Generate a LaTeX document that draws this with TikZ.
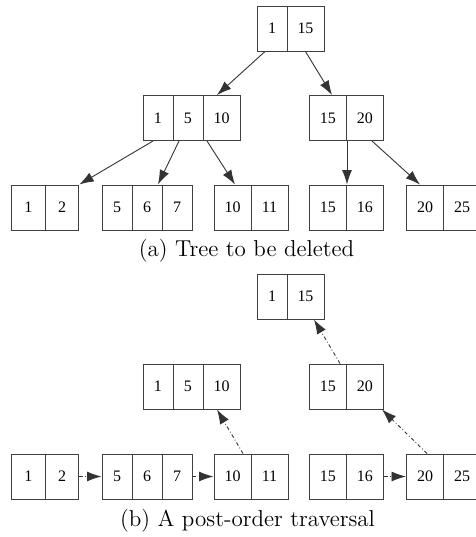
\documentclass[tikz,border=0pt]{standalone}
\usepackage{fontspec}
\newfontfamily\keyfont{Liberation Serif}
\usetikzlibrary{arrows.meta}

\begin{document}
\begin{tikzpicture}[x=0.5pt,y=-0.5pt,
  cell/.style={draw=black!75,line width=0.5pt,minimum height=22.5pt,inner sep=0pt,font=\keyfont\fontsize{8}{9}\selectfont},
  narrow/.style={cell,minimum width=15pt},
  wide/.style={cell,minimum width=18.5pt},
  half/.style={cell,minimum width=16.75pt},
  child/.style={draw=black!80,line width=0.45pt,-{Latex[length=7.25pt,width=5pt]}},
  visit/.style={child,dash pattern=on 1.8pt off 1.2pt on 0.4pt off 1.2pt},
  caption/.style={font=\fontsize{11.5}{14}\selectfont}]
\useasboundingbox (0,0) rectangle (476,537);
% (a) tree to be deleted
\node[narrow] (r1) at (272,28.5) {1};
\node[wide] (r15) at (305.5,28.5) {15};
\node[narrow] (a1) at (158,118) {1};
\node[narrow] (a5) at (188,118) {5};
\node[wide] (a10) at (221.5,118) {10};
\node[wide] (b15) at (328,118) {15};
\node[wide] (b20) at (365,118) {20};
\node[half] (l1) at (28.5,207.5) {1};
\node[half] (l2) at (62,207.5) {2};
\node[narrow] (l5) at (117,207.5) {5};
\node[narrow] (l6) at (147,207.5) {6};
\node[narrow] (l7) at (177,207.5) {7};
\node[wide] (l10) at (232.5,207.5) {10};
\node[wide] (l11) at (269.5,207.5) {11};
\node[wide] (l15) at (328,207.5) {15};
\node[wide] (l16) at (365,207.5) {16};
\node[wide] (l20) at (425,207.5) {20};
\node[wide] (l25) at (462,207.5) {25};
\draw[child] ([xshift=-3.5pt]r1.south) -- ([xshift=-2.25pt]a10.north);
\draw[child] (r15.south) -- ([xshift=2pt]b15.north);
\draw[child] ([xshift=-2.5pt]a1.south) -- (l2.north east);
\draw[child] ([xshift=-4.5pt]a5.south) -- ([xshift=5.5pt]l6.north);
\draw[child] ([xshift=-7.25pt]a10.south) -- ([xshift=1.25pt]l10.north);
\draw[child] (b15.south east) -- (l15.north east);
\draw[child] ([xshift=3.5pt]b20.south) -- ([xshift=-2.5pt]l20.north);
\node[caption] (capa) at (246.5,251) {(a) Tree to be deleted};
% (b) post-order traversal
\node[narrow] (pr1) at (272,296.5) {1};
\node[wide] (pr15) at (305.5,296.5) {15};
\node[narrow] (pa1) at (158,386.5) {1};
\node[narrow] (pa5) at (188,386.5) {5};
\node[wide] (pa10) at (221.5,386.5) {10};
\node[wide] (pb15) at (328,386.5) {15};
\node[wide] (pb20) at (365,386.5) {20};
\node[half] (pl1) at (28.5,476.5) {1};
\node[half] (pl2) at (62,476.5) {2};
\node[narrow] (pl5) at (117,476.5) {5};
\node[narrow] (pl6) at (147,476.5) {6};
\node[narrow] (pl7) at (177,476.5) {7};
\node[wide] (pl10) at (232.5,476.5) {10};
\node[wide] (pl11) at (269.5,476.5) {11};
\node[wide] (pl15) at (328,476.5) {15};
\node[wide] (pl16) at (365,476.5) {16};
\node[wide] (pl20) at (425,476.5) {20};
\node[wide] (pl25) at (462,476.5) {25};
\draw[visit] (pl2.east) -- (pl5.west);
\draw[visit] (pl7.east) -- (pl10.west);
\draw[visit] (pl16.east) -- (pl20.west);
\draw[visit] ([xshift=5.25pt]pl10.north) -- ([xshift=-2.25pt]pa10.south);
\draw[visit] ([xshift=1pt]pl20.north) -- ([xshift=8.5pt]pb20.south);
\draw[visit] ([xshift=6pt]pb15.north) -- ([xshift=4.25pt]pr15.south);
\node[caption] (capb) at (247.5,521) {(b) A post-order traversal};
\end{tikzpicture}
\end{document}
